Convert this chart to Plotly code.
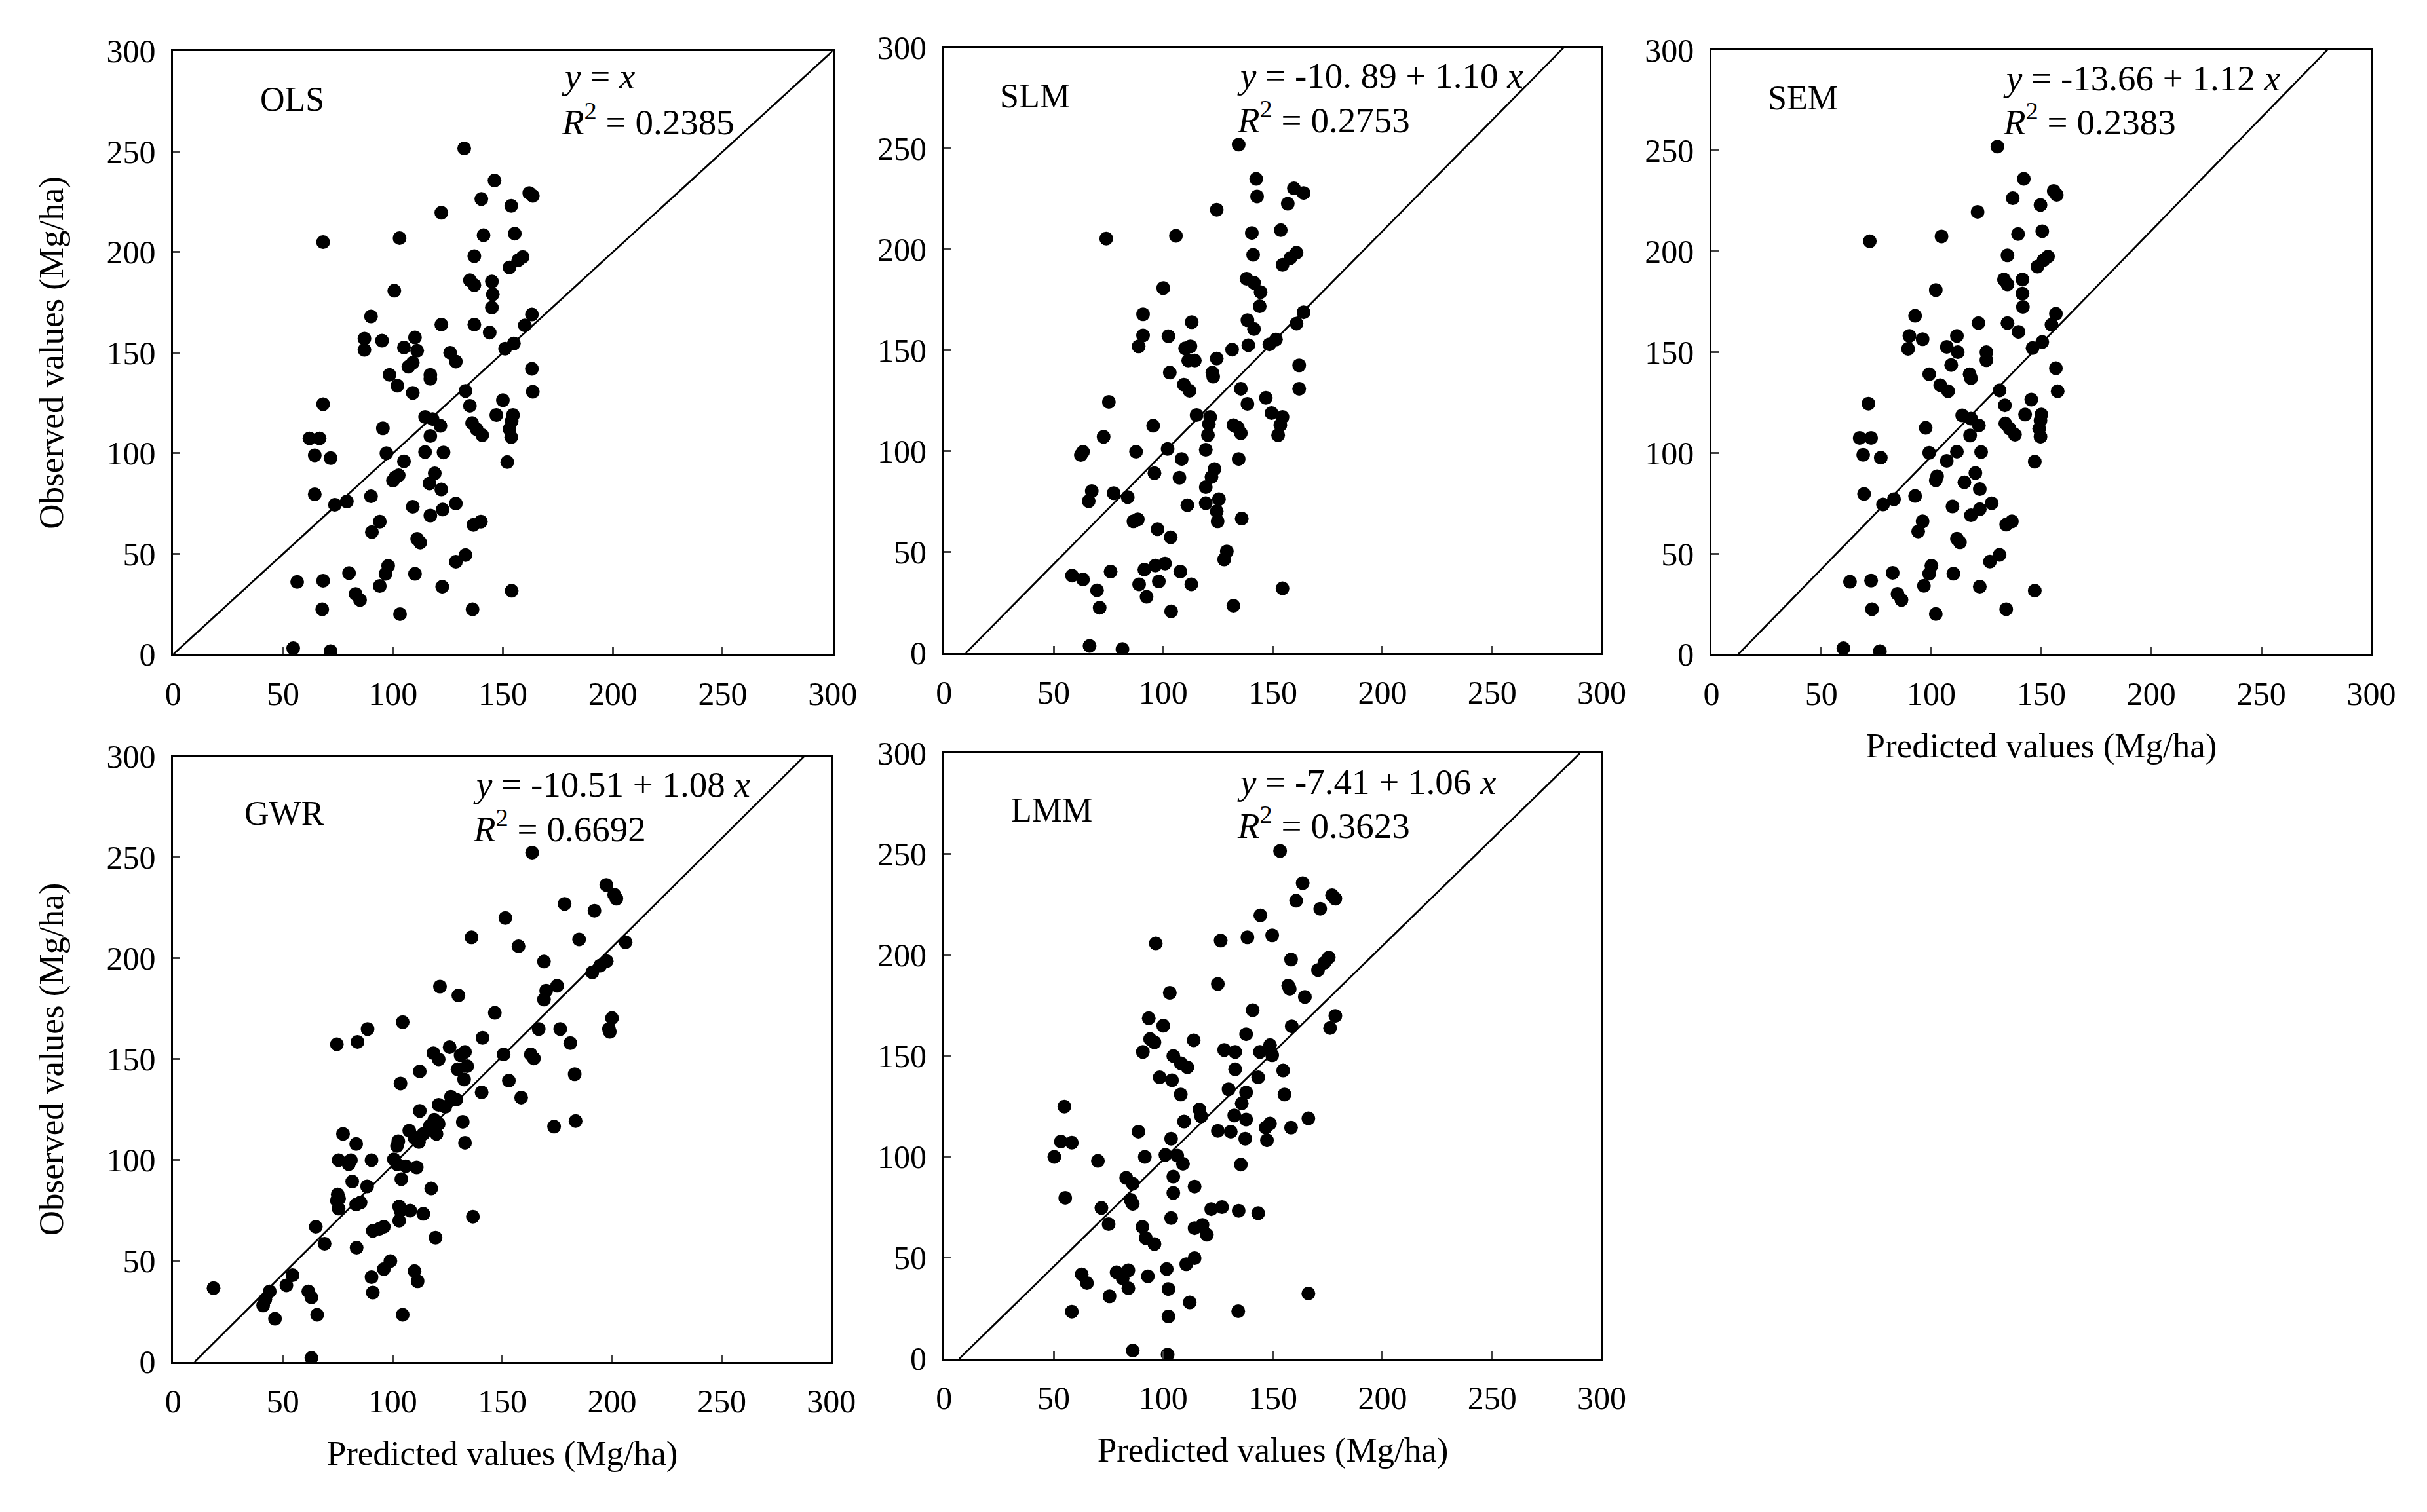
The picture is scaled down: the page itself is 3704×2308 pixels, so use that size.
import plotly.graph_objects as go

FONT = "Liberation Serif, Times New Roman, serif"

# predicted (x) / observed (y) values, Mg/ha
ols_pred = [132.4, 146.2, 140.2, 162.0, 163.6, 153.8, 122.0, 68.2, 103.0, 141.2,
            155.4, 137.0, 159.0, 157.0, 153.0, 135.0, 137.0, 145.0, 145.4, 145.0,
            100.6, 90.0, 163.2, 160.0, 122.0, 137.0, 144.0, 87.0, 87.0, 95.0,
            110.0, 105.0, 111.0, 109.0, 107.0, 126.0, 128.6, 151.0, 155.0, 98.4,
            102.0, 117.0, 117.0, 109.0, 163.2, 163.6, 133.0, 68.2, 135.0, 150.0,
            114.6, 118.0, 121.6, 147.0, 154.6, 154.0, 153.0, 153.8, 136.0, 138.0,
            140.6, 95.4, 62.0, 66.6, 117.0, 64.4, 71.6, 97.0, 114.6, 123.0,
            105.0, 152.0, 101.0, 100.0, 102.6, 119.0, 116.6, 122.0, 64.4, 73.6,
            79.0, 90.0, 109.0, 117.0, 122.6, 128.6, 94.0, 90.4, 136.6, 140.0,
            111.0, 112.4, 133.0, 128.6, 97.8, 96.6, 80.0, 110.0, 56.4, 68.2,
            83.0, 85.0, 94.0, 122.4, 154.0, 67.8, 136.2, 103.2, 54.6, 71.6]
ols_obs = [251.6, 235.6, 226.4, 229.4, 228.0, 223.0, 219.6, 205.0, 207.0, 208.4,
           209.2, 198.0, 197.6, 196.0, 192.4, 186.0, 183.6, 185.4, 179.0, 172.4,
           180.8, 168.0, 169.0, 163.6, 164.0, 164.0, 160.0, 157.0, 151.4, 156.0,
           157.6, 152.6, 151.0, 145.0, 143.0, 150.0, 145.6, 152.0, 154.6, 139.0,
           133.6, 139.0, 137.0, 130.0, 142.0, 130.6, 131.0, 124.4, 123.6, 126.4,
           118.0, 117.0, 113.6, 119.0, 119.0, 116.0, 112.0, 108.0, 115.0, 112.0,
           109.0, 112.4, 107.4, 107.4, 108.6, 99.0, 97.6, 100.0, 100.6, 100.4,
           96.0, 95.6, 88.0, 86.4, 89.0, 90.0, 85.0, 82.0, 79.6, 74.4,
           76.0, 78.6, 73.4, 69.0, 72.0, 75.0, 66.0, 60.8, 64.4, 66.0,
           57.4, 55.6, 49.4, 46.0, 44.0, 40.0, 40.4, 40.0, 36.0, 36.6,
           30.0, 27.0, 34.0, 33.6, 31.6, 22.4, 22.4, 20.0, 3.0, 1.6]

slm_pred = [134.4, 142.4, 142.8, 159.6, 164, 156.8, 124.4, 74, 105.8, 140.4,
            153.6, 141, 160.8, 158, 154.4, 138, 141.4, 144.4, 144, 100,
            90.8, 164, 160.8, 113, 138.4, 141.4, 102.4, 90.8, 88.8, 110,
            112.4, 111.4, 114.4, 131.4, 138.8, 124.4, 122.4, 122.8, 148.4, 151.4,
            103, 109.4, 112, 162, 162, 135.4, 75.2, 138.4, 146.8, 115.2,
            121.4, 120.8, 120.4, 149.4, 154.4, 153.4, 152.4, 132, 134, 135.4,
            95.4, 72.8, 62.4, 63.4, 87.6, 102, 119.4, 108.4, 134.4, 96,
            107.4, 123.4, 122, 119.4, 67.4, 66, 77.4, 83.8, 125.4, 119.4,
            124.4, 124.8, 111, 135.8, 86.4, 88.4, 97.4, 103.4, 129, 127.8,
            91.4, 96.4, 100.8, 107.8, 76, 58.4, 63.4, 89, 98, 112.8,
            154.4, 69.8, 92.4, 71, 132, 103.6, 66.4, 81.4]
slm_obs = [252, 235, 226.3, 230.3, 228, 222.7, 219.7, 205.4, 206.8, 208.2,
           209.6, 197.4, 198.4, 195.8, 192.4, 185.5, 183.5, 178.9, 171.9, 180.9,
           167.9, 168.9, 163.3, 164, 165, 160.6, 157, 157.4, 152, 151,
           152, 145, 145, 150.4, 152.6, 146, 139, 137, 153, 155.4,
           139, 133, 130, 142.6, 131, 131, 124.5, 123.5, 126.5, 118,
           117, 113.5, 108, 119, 117, 113, 108, 113, 111.8, 109,
           112.7, 107.2, 98.2, 99.8, 99.8, 101.2, 100.8, 96.2, 96.2, 89.2,
           86.9, 91.2, 87.3, 82.3, 80.3, 75.3, 79.3, 77.3, 76.3, 74.3,
           70.3, 65.3, 73.3, 66.7, 65.3, 66.3, 61.4, 57.4, 50.4, 46.4,
           41.4, 43.4, 44.4, 40.4, 40.4, 38.4, 36.5, 34.1, 35.5, 34.1,
           32.1, 31.1, 27.9, 22.5, 23.5, 20.7, 3.6, 2]

sem_pred = [130, 142, 137, 155.6, 157, 149.6, 121, 72, 104.6, 139.4,
            150.4, 134.6, 153, 151, 148.2, 133, 134.6, 141.4, 141.4, 141.6,
            102, 92.6, 156.6, 154.6, 121.4, 134.6, 139.6, 90, 89.4, 96,
            111.6, 107, 112, 109, 125, 125, 146, 150.4, 99, 104,
            107.6, 117.4, 118, 156.6, 157.4, 131, 71.4, 133.4, 145.4, 114,
            118, 121.6, 142.6, 150, 149.6, 149, 149.6, 133.6, 135.6, 138,
            97.4, 67.4, 72.6, 117.6, 69, 77, 99, 111.6, 122.6, 107,
            147, 102.6, 102, 120, 115, 122, 69.4, 78, 83, 92.6,
            109.6, 118, 122, 127.4, 96, 94, 134, 136.6, 111.6, 113,
            131, 126.6, 100, 99, 82.4, 110, 63, 72.6, 84.6, 86.4,
            96.6, 122, 147, 73, 134, 102, 60, 76.6]
sem_obs = [252, 236, 226.4, 230, 228, 223, 219.6, 205, 207.4, 208.6,
           210, 198, 197.4, 195.6, 192.4, 186, 183.6, 186, 179, 172.4,
           180.8, 168, 169, 163.6, 164.4, 164.4, 160, 158, 151.6, 156.4,
           158, 152.6, 150, 143.6, 150, 146, 152, 155, 139, 133.6,
           130.6, 139, 137, 142, 130.6, 131, 124.4, 123.6, 126.4, 118.6,
           117, 113.6, 119, 119, 116, 112, 108, 114.6, 112, 109,
           112.4, 107.4, 107.4, 108.6, 99, 97.6, 100, 100.6, 100.4, 96,
           95.6, 88.4, 86.4, 90, 85.4, 82, 79.6, 74.4, 77, 78.6,
           73.4, 69, 72, 75, 66, 61, 64.4, 66, 57.4, 55.6,
           49.4, 46, 44, 40, 40.4, 40, 36, 36.6, 30, 27,
           34, 33.6, 31.6, 22.4, 22.4, 20, 3, 1.6]

gwr_pred = [163.6, 197.4, 201, 202, 178.4, 192, 151.4, 136, 185, 206.2,
            157.4, 169, 197.6, 194.6, 191, 121.6, 130, 175, 170, 169,
            146.6, 104.6, 200, 198.6, 199, 88.6, 84, 74.6, 141, 166.6,
            176.4, 181, 118.6, 121, 126, 133, 131, 150.6, 163, 164.4,
            129.6, 134, 132.6, 112.4, 103.6, 153, 183, 140.6, 158.6, 126.6,
            129, 124, 121, 112.4, 119, 121, 117, 120, 132, 173.6,
            183.4, 77.4, 107.6, 114, 112, 110, 133, 83.4, 102.6, 102,
            75.4, 81, 80, 90.4, 100.6, 102, 106, 111, 81.6, 88.4,
            104, 117.6, 75, 75.6, 74.6, 75.4, 83.4, 85.4, 103, 103.6,
            108, 103, 114, 136.6, 65, 91, 94, 96, 119.6, 69,
            83.6, 99, 96, 54.4, 51.6, 90.4, 110, 111.4, 18.4, 44,
            42, 41, 61.6, 63, 91, 46.4, 65.6, 104.6, 63]
gwr_obs = [252.4, 236.4, 231.6, 229.6, 227, 223.6, 220, 210.4, 209.4, 208,
           206, 198.4, 198.6, 196.4, 193, 186, 181.6, 186.4, 184, 179.6,
           173, 168.4, 170.4, 165, 163.6, 165, 158.6, 157.4, 160.6, 165,
           165, 158, 153, 150, 156, 153.6, 152, 152.4, 152.4, 150.4,
           145, 146.6, 140, 144, 138, 139.4, 142.6, 133.6, 131, 131.4,
           130, 126.4, 127.4, 124.4, 120, 118, 117, 113, 119, 116.6,
           119.4, 113, 114.6, 113, 109, 111, 108.6, 108, 109.4, 107,
           100, 100, 98, 100, 100.4, 98, 97, 96.4, 89.4, 87,
           90.6, 86, 83, 81, 80, 76, 78, 79, 77, 75,
           75, 70, 73.4, 72, 67, 65, 66, 67, 61.6, 58.6,
           56.6, 50, 46, 43, 38, 42, 45, 40, 36.6, 35,
           31, 28, 35, 32, 34.4, 21.4, 23.4, 23.4, 2]

lmm_pred = [153.3, 163.6, 160.6, 177, 178.5, 171.6, 144.3, 96.6, 126.2, 138.4,
            149.7, 158.3, 175.5, 173.5, 170.6, 124.9, 157, 157.7, 164.6, 103,
            140.8, 93.4, 100, 178.5, 176.1, 158.6, 137.8, 113.9, 94, 96,
            90.7, 127.8, 132.8, 144.1, 148.7, 149.7, 104.6, 108, 111, 132.8,
            154.7, 98.4, 104, 143.3, 129.8, 108, 137.8, 135.8, 155.3, 54.9,
            116.5, 117.3, 132.4, 137.8, 166.2, 109.5, 148.7, 146.7, 88.7, 124.9,
            130.8, 158.3, 137.4, 147.3, 103.6, 53.3, 58.3, 50.3, 70.2, 91.6,
            101, 106.4, 109, 135.4, 104.6, 83.1, 86.1, 114.3, 104.6, 55.3,
            85.1, 86.1, 71.8, 121.9, 126.8, 134.4, 143.3, 103.6, 75.1, 90.5,
            92, 96, 114.3, 117.9, 119.9, 110.5, 114.3, 62.8, 65.2, 78.7,
            84.1, 81.5, 101.6, 93, 75.5, 84.1, 102.4, 166.2, 112.1, 58.3,
            134.2, 102.4, 86.1, 102]
lmm_obs = [251.6, 235.7, 227, 229.7, 228, 223, 219.7, 205.8, 207.2, 208.8,
           209.8, 197.8, 198.8, 196.2, 192.6, 185.7, 184.9, 183.3, 179.3, 181.3,
           172.7, 168.7, 165, 169.9, 163.9, 164.7, 160.8, 157.8, 158.4, 156.8,
           152, 153, 152, 152, 155.4, 150.4, 150, 146.4, 144.4, 143.4,
           142.8, 139.4, 138, 139.4, 133.5, 130.9, 131.9, 126.5, 130.9, 124.9,
           123.5, 120.1, 120.5, 118.5, 119.1, 117.5, 116.5, 114.5, 112.5, 112.9,
           112.5, 114.5, 109, 108.2, 109, 107.6, 107, 100, 98, 100,
           101, 100.6, 96.6, 96.2, 90.2, 89.6, 86.7, 85.3, 82.1, 79.7,
           78.7, 76.7, 74.7, 74.1, 75.1, 73.3, 72.1, 69.7, 66.7, 65.3,
           59.8, 56.8, 64.7, 66.3, 61.4, 46.8, 49.8, 41.8, 37.5, 42.8,
           43.8, 39.8, 44.4, 40.8, 30.9, 34.9, 34.5, 32.3, 27.9, 23.3,
           23.5, 20.9, 4, 2]

models = ["OLS", "SLM", "SEM", "GWR", "LMM"]
intercepts = [0.0, -10.89, -13.66, -10.51, -7.41]
slopes = [1.0, 1.10, 1.12, 1.08, 1.06]
equations = ["<i>y</i> = <i>x</i>",
             "<i>y</i> = -10. 89 + 1.10 <i>x</i>",
             "<i>y</i> = -13.66 + 1.12 <i>x</i>",
             "<i>y</i> = -10.51 + 1.08 <i>x</i>",
             "<i>y</i> = -7.41 + 1.06 <i>x</i>"]
r_squared = ["0.2385", "0.2753", "0.2383", "0.6692", "0.3623"]
tick_vals = [0, 50, 100, 150, 200, 250, 300]

preds = [ols_pred, slm_pred, sem_pred, gwr_pred, lmm_pred]
obs = [ols_obs, slm_obs, sem_obs, gwr_obs, lmm_obs]

# panel placement (paper fractions) and text positions (data coords)
x_domains = [[0.0692, 0.3409], [0.3868, 0.6578], [0.7030, 0.9749],
             [0.0692, 0.3404], [0.3868, 0.6578]]
y_domains = [[0.5707, 0.9697], [0.5715, 0.9719], [0.5707, 0.9705],
             [0.1027, 0.5031], [0.1049, 0.5052]]
label_pos = [(39, 276), (25, 276), (25, 276), (32, 272), (30, 272)]
eq_pos = [(176, 287.5, 266), (133, 286, 265.5), (132, 286, 265.5),
          (136, 286, 265.5), (133, 286, 265.5)]
x_titled = [False, False, True, True, True]
y_titled = [True, False, False, True, False]

fig = go.Figure()
annotations = []

for i, name in enumerate(models):
    n = "" if i == 0 else str(i + 1)
    xa, ya = "x" + n, "y" + n

    fig.add_trace(go.Scatter(x=preds[i], y=obs[i], mode="markers", xaxis=xa, yaxis=ya,
                             marker=dict(color="black", size=21), showlegend=False))

    a, b = intercepts[i], slopes[i]
    fig.add_trace(go.Scatter(x=[-a / b, (300 - a) / b], y=[0, 300], mode="lines",
                             xaxis=xa, yaxis=ya, line=dict(color="black", width=2.8),
                             showlegend=False))

    axis_common = dict(range=[0, 300], tickvals=tick_vals, ticks="inside", ticklen=11,
                       tickwidth=2.5, showline=True, linewidth=2.5, linecolor="black",
                       mirror=True, showgrid=False, zeroline=False, automargin=False,
                       tickfont=dict(family=FONT, size=50, color="black"))
    fig.update_layout({
        "xaxis" + n: dict(axis_common, domain=x_domains[i], anchor=ya, ticklabelstandoff=14,
                          title=dict(text="Predicted values (Mg/ha)" if x_titled[i] else "",
                                     font=dict(family=FONT, size=53, color="black"),
                                     standoff=34)),
        "yaxis" + n: dict(axis_common, domain=y_domains[i], anchor=xa, ticklabelstandoff=14,
                          title=dict(text="Observed values (Mg/ha)" if y_titled[i] else "",
                                     font=dict(family=FONT, size=53, color="black"),
                                     standoff=50)),
    })

    lx, ly = label_pos[i]
    ex, ey, ry = eq_pos[i]
    texts = [(name, lx, ly, 52), (equations[i], ex, ey, 55),
             ("<i>R</i><sup>2</sup> = " + r_squared[i], ex, ry, 55)]
    for txt, x, y, size in texts:
        annotations.append(dict(text=txt, x=x, y=y, xref=xa, yref=ya, showarrow=False,
                                xanchor="left", yanchor="middle",
                                font=dict(family=FONT, size=size, color="black")))

fig.update_layout(
    width=3704,
    height=2308,
    margin=dict(l=0, r=0, t=0, b=0),
    paper_bgcolor="white",
    plot_bgcolor="white",
    annotations=annotations,
)

fig.write_html("out.html")
